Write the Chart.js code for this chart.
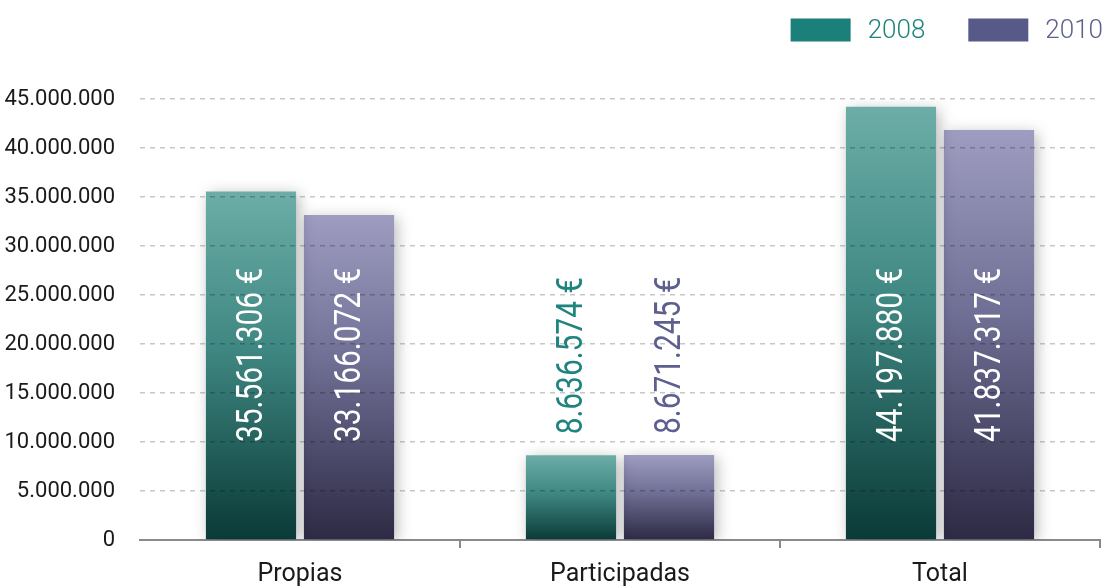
<!DOCTYPE html>
<html>
<head>
<meta charset="utf-8">
<style>
  body { margin: 0; background: #fff; }
  .chart-wrap { width: 1106px; height: 587px; position: relative; }
</style>
</head>
<body>
<div class="chart-wrap">
    <canvas id="fundsChart"></canvas>
</div>

<script src="https://cdn.jsdelivr.net/npm/chart.js"></script>
<script>
    // data
    const categories = ['Propias', 'Participadas', 'Total'];
    const seriesNames = ['2008', '2010'];
    const values2008 = [35561306, 8636574, 44197880];
    const values2010 = [33166072, 8671245, 41837317];
    const yTicks = [0, 5000000, 10000000, 15000000, 20000000, 25000000, 30000000, 35000000, 40000000, 45000000];

    const FONT = "Roboto, 'Liberation Sans', sans-serif";

    // colours per series: legend box, label text, gradient top, mid, bottom
    const palette = [
        { solid: '#1b7f7a', text: '#1f837e', top: '#6cada7', mid: '#3f8782', bottom: '#0a3a37' },
        { solid: '#575a88', text: '#5d5f8e', top: '#9e9dc1', mid: '#6f6e94', bottom: '#2c2a44' }
    ];

    function fmt(v) {
        return String(v).replace(/\B(?=(\d{3})+(?!\d))/g, '.');
    }

    function barGradient(context) {
        const chart = context.chart;
        const area = chart.chartArea;
        const p = palette[context.datasetIndex];
        if (!area || context.raw == null) return p.solid;
        const top = chart.scales.y.getPixelForValue(context.raw);
        const g = chart.ctx.createLinearGradient(0, top, 0, area.bottom);
        g.addColorStop(0, p.top);
        g.addColorStop(0.45, p.mid);
        g.addColorStop(1, p.bottom);
        return g;
    }

    // soft shadow behind the bars
    const barShadow = {
        id: 'barShadow',
        beforeDatasetDraw(chart) {
            const ctx = chart.ctx;
            ctx.save();
            ctx.shadowColor = 'rgba(0,0,0,0.28)';
            ctx.shadowBlur = 14;
            ctx.shadowOffsetX = 3;
            ctx.shadowOffsetY = 3;
        },
        afterDatasetDraw(chart) {
            chart.ctx.restore();
        }
    };

    // rotated value labels: inside tall bars, above short ones (squeezed to look condensed)
    const valueLabels = {
        id: 'valueLabels',
        afterDraw(chart) {
            const ctx = chart.ctx;
            const base = chart.chartArea.bottom;
            const squeeze = 0.83;
            ctx.save();
            ctx.font = '36px ' + FONT;
            ctx.textAlign = 'left';
            ctx.textBaseline = 'middle';
            chart.data.datasets.forEach((ds, di) => {
                const meta = chart.getDatasetMeta(di);
                meta.data.forEach((bar, i) => {
                    const text = fmt(ds.data[i]) + ' €';
                    const w = ctx.measureText(text).width * squeeze;
                    let startY, color;
                    if (base - bar.y > w + 110) {
                        startY = base - 98;
                        color = '#ffffff';
                    } else {
                        startY = bar.y - 21;
                        color = palette[di].text;
                    }
                    ctx.save();
                    ctx.translate(bar.x + 2, startY);
                    ctx.rotate(-Math.PI / 2);
                    ctx.scale(squeeze, 1);
                    ctx.fillStyle = color;
                    ctx.fillText(text, 0, 0);
                    ctx.restore();
                });
            });
            ctx.restore();
        }
    };

    // legend in the top right corner
    const topLegend = {
        id: 'topLegend',
        afterDraw(chart) {
            const ctx = chart.ctx;
            ctx.save();
            ctx.font = '300 26px Roboto, sans-serif';
            ctx.textBaseline = 'middle';
            let x = chart.width - 3;
            const y = 30;
            for (let i = seriesNames.length - 1; i >= 0; i--) {
                const tw = ctx.measureText(seriesNames[i]).width;
                x -= tw;
                ctx.fillStyle = palette[i].text;
                ctx.fillText(seriesNames[i], x, y + 1);
                x -= 17 + 60;
                ctx.fillStyle = palette[i].solid;
                ctx.fillRect(x, y - 11.5, 60, 23);
                x -= 43;
            }
            ctx.restore();
        }
    };

    const ctx = document.getElementById('fundsChart').getContext('2d');
    new Chart(ctx, {
        type: 'bar',
        data: {
            labels: categories,
            datasets: [
                { label: seriesNames[0], data: values2008, backgroundColor: barGradient },
                { label: seriesNames[1], data: values2010, backgroundColor: barGradient }
            ]
        },
        options: {
            responsive: true,
            maintainAspectRatio: false,
            animation: false,
            categoryPercentage: 0.6125,
            barPercentage: 0.92,
            layout: { padding: { top: 99, right: 6, left: 0, bottom: 0 } },
            plugins: {
                legend: { display: false },
                tooltip: { enabled: false }
            },
            scales: {
                x: {
                    afterFit(scale) { scale.height = 47; },
                    grid: {
                        offset: true,
                        drawOnChartArea: false,
                        tickLength: 8,
                        lineWidth: 2,
                        color: c => (c.index === 0 || c.index === categories.length) ? 'rgba(0,0,0,0)' : '#8a8a8e'
                    },
                    border: { display: true, color: '#8a8a8e', width: 2 },
                    ticks: {
                        color: '#1a1a1a',
                        padding: 12,
                        font: { family: FONT, size: 25 }
                    }
                },
                y: {
                    min: 0,
                    max: yTicks[yTicks.length - 1],
                    afterFit(scale) { scale.width = 140; },
                    afterBuildTicks(scale) { scale.ticks = yTicks.map(v => ({ value: v })); },
                    // grid dash lives on border in v4
                    border: { display: false, dash: [5, 5] },
                    grid: {
                        z: 1,
                        drawTicks: false,
                        lineWidth: 1.5,
                        color: c => c.tick && c.tick.value === 0 ? 'rgba(0,0,0,0)' : 'rgba(0,0,0,0.22)'
                    },
                    ticks: {
                        color: '#1a1a1a',
                        padding: 25,
                        font: { family: FONT, size: 22 },
                        callback: v => fmt(v)
                    }
                }
            }
        },
        plugins: [barShadow, valueLabels, topLegend]
    });
</script>
</body>
</html>
